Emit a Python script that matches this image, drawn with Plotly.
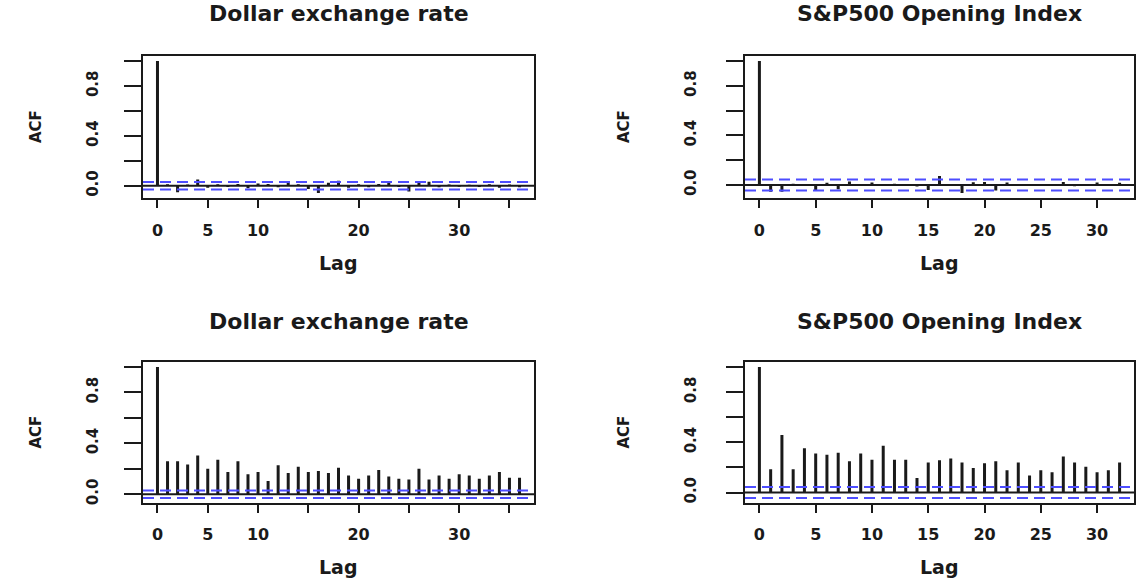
import plotly.graph_objects as go

W, H = 1138, 581

# ---------------- data ----------------
titles = ["Dollar exchange rate", "S&P500 Opening Index",
          "Dollar exchange rate", "S&P500 Opening Index"]

# top-left: ACF of dollar exchange-rate returns (lags 0..36)
acf_dollar = [1.0, 0.012, -0.052, 0.010, 0.050, -0.015, 0.012, -0.010, 0.015, -0.020,
              0.018, 0.015, -0.012, 0.038, 0.012, -0.025, -0.058, 0.025, 0.040, -0.015,
              0.012, -0.012, 0.015, 0.022, -0.010, -0.045, 0.030, 0.032, -0.012, 0.010,
              -0.008, 0.008, -0.010, 0.012, -0.015, 0.010, -0.012]

# top-right: ACF of S&P500 opening index returns (lags 0..32)
acf_sp = [1.0, -0.055, -0.055, 0.010, -0.005, -0.045, 0.018, -0.035, 0.028, 0.005,
          0.020, -0.005, 0.010, -0.006, -0.012, -0.040, 0.072, -0.003, -0.065, 0.022,
          0.025, -0.045, 0.020, -0.008, 0.002, -0.002, -0.005, 0.025, -0.010, 0.002,
          0.020, -0.008, 0.018]

# bottom-left: ACF of squared dollar returns (lags 0..36)
acf_dollar_sq = [1.0, 0.26, 0.26, 0.234, 0.305, 0.20, 0.27, 0.175, 0.26, 0.156,
                 0.175, 0.104, 0.227, 0.167, 0.216, 0.175, 0.182, 0.167, 0.208, 0.148,
                 0.122, 0.148, 0.19, 0.14, 0.122, 0.115, 0.20, 0.115, 0.148, 0.122,
                 0.156, 0.148, 0.122, 0.148, 0.175, 0.13, 0.13]

# bottom-right: ACF of squared S&P500 returns (lags 0..32)
acf_sp_sq = [1.0, 0.185, 0.458, 0.185, 0.352, 0.31, 0.30, 0.317, 0.249, 0.31,
             0.26, 0.373, 0.26, 0.26, 0.116, 0.24, 0.257, 0.27, 0.24, 0.196,
             0.233, 0.249, 0.177, 0.24, 0.135, 0.177, 0.161, 0.286, 0.24, 0.206,
             0.161, 0.177, 0.24]

# 95% confidence limits (dashed blue)
clim_dollar = 0.030
clim_sp = 0.044

series = [acf_dollar, acf_sp, acf_dollar_sq, acf_sp_sq]
clims = [clim_dollar, clim_sp, clim_dollar, clim_sp]

xtick_left = [0, 5, 10, 15, 20, 25, 30, 35]
xtext_left = ["0", "5", "10", "", "20", "", "30", ""]
xtick_right = [0, 5, 10, 15, 20, 25, 30]
xtext_right = ["0", "5", "10", "15", "20", "25", "30"]
ytick_vals = [0.0, 0.2, 0.4, 0.6, 0.8, 1.0]
ytick_text = ["0.0", "", "0.4", "", "0.8", ""]

# ---------------- layout (pixel boxes) ----------------
boxes = [(143, 534, 56, 199), (745, 1134, 56, 199),
         (143, 534, 363, 505), (745, 1134, 363, 505)]
acf_label_x = [36, 624, 36, 624]
title_y = [14, 14, 323, 323]
lag_y = [264, 264, 569, 569]
ystandoff = [20, 24, 20, 24]

def xp(px):
    return px / W

def yp(py):
    return 1 - py / H

FONT = "DejaVu Sans"
BLACK = "#1a1a1a"
BLUE = "#4d4dff"

fig = go.Figure()
layout = dict(width=W, height=H, margin=dict(l=0, r=0, t=0, b=0),
              paper_bgcolor="white", plot_bgcolor="white", showlegend=False)
shapes = []
annotations = []

for i, (vals, clim, box) in enumerate(zip(series, clims, boxes)):
    n = len(vals) - 1
    lags = list(range(n + 1))
    xs, ys = [], []
    for k, v in zip(lags, vals):
        xs += [k, k, None]
        ys += [0, v, None]
    xa = "x" if i == 0 else f"x{i+1}"
    ya = "y" if i == 0 else f"y{i+1}"
    fig.add_trace(go.Scatter(x=xs, y=ys, mode="lines", xaxis=xa, yaxis=ya,
                             line=dict(color=BLACK, width=3), hoverinfo="skip"))
    lo = min(min(vals), -clim)
    hi = max(max(vals), clim)
    pad = 0.04 * (hi - lo)
    x0, x1, y0, y1 = box
    right = i % 2 == 1
    xkey = "xaxis" if i == 0 else f"xaxis{i+1}"
    ykey = "yaxis" if i == 0 else f"yaxis{i+1}"
    layout[xkey] = dict(domain=[xp(x0), xp(x1)], anchor=ya,
                        range=[-0.04 * n, 1.04 * n],
                        tickmode="array",
                        tickvals=xtick_right if right else xtick_left,
                        ticktext=xtext_right if right else xtext_left,
                        ticks="outside", ticklen=8, tickwidth=2, tickcolor=BLACK,
                        showline=True, linecolor=BLACK, linewidth=2, mirror=True,
                        showgrid=False, zeroline=False, ticklabelstandoff=8,
                        tickfont=dict(family=FONT, size=16, weight="bold", color=BLACK))
    layout[ykey] = dict(domain=[yp(y1), yp(y0)], anchor=xa,
                        range=[lo - pad, hi + pad],
                        tickmode="array", tickvals=ytick_vals, ticktext=ytick_text,
                        tickangle=-90,
                        ticks="outside", ticklen=17, tickwidth=2, tickcolor=BLACK,
                        showline=True, linecolor=BLACK, linewidth=2, mirror=True,
                        showgrid=False, zeroline=False, ticklabelstandoff=ystandoff[i],
                        tickfont=dict(family=FONT, size=15, weight="bold", color=BLACK))
    # zero line
    shapes.append(dict(type="line", xref=f"{xa} domain", yref=ya, x0=0, x1=1, y0=0, y1=0,
                       line=dict(color=BLACK, width=2), layer="above"))
    for c in (clim, -clim):
        shapes.append(dict(type="line", xref=f"{xa} domain", yref=ya, x0=0, x1=1, y0=c, y1=c,
                           line=dict(color=BLUE, width=2, dash="11px,6px"), layer="above"))
    cx = (x0 + x1) / 2
    annotations.append(dict(text=titles[i], x=xp(cx), y=yp(title_y[i]), xref="paper", yref="paper",
                            showarrow=False, xanchor="center", yanchor="middle",
                            font=dict(family=FONT, size=22, weight="bold", color=BLACK)))
    annotations.append(dict(text="Lag", x=xp(cx), y=yp(lag_y[i]), xref="paper", yref="paper",
                            showarrow=False, xanchor="center", yanchor="middle",
                            font=dict(family=FONT, size=19, weight="bold", color=BLACK)))
    annotations.append(dict(text="ACF", x=xp(acf_label_x[i]), y=yp((y0 + y1) / 2),
                            xref="paper", yref="paper", textangle=-90,
                            showarrow=False, xanchor="center", yanchor="middle",
                            font=dict(family=FONT, size=15, weight="bold", color=BLACK)))

layout["shapes"] = shapes
layout["annotations"] = annotations
fig.update_layout(**layout)
fig.write_html("out.html")
